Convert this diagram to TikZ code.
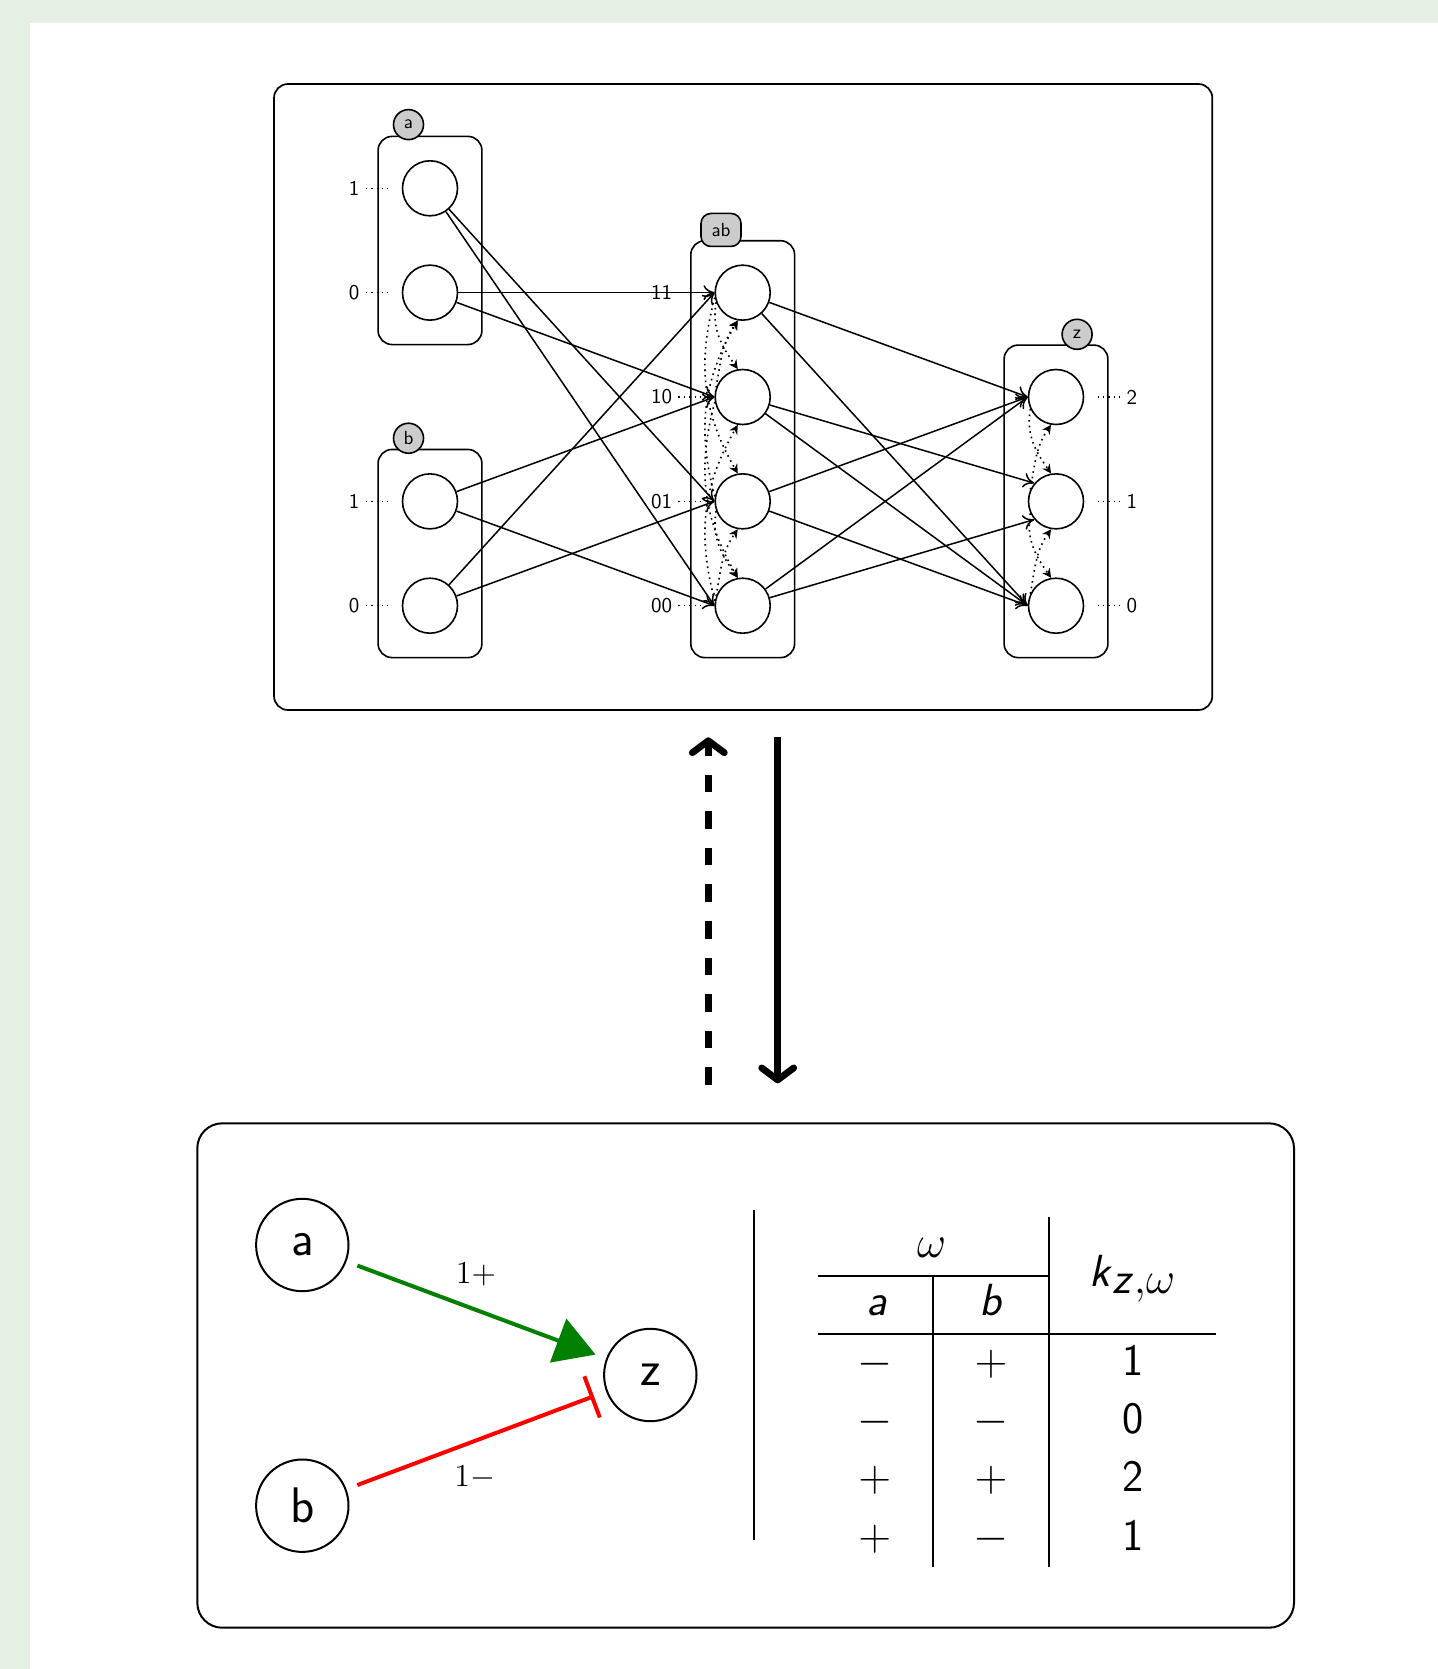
\RequirePackage{fix-cm}
\documentclass[tikz,border=0pt]{standalone}
\usepackage{amsmath}
\usepackage{fontspec}
\renewcommand{\familydefault}{\sfdefault}
\usetikzlibrary{arrows.meta,fit}
\definecolor{bggreen}{RGB}{229,240,229}
\definecolor{badgegray}{RGB}{204,204,204}
\definecolor{actgreen}{RGB}{0,128,0}
\begin{document}
\begin{tikzpicture}[x=0.5pt,y=-0.5pt,
  st/.style={circle, draw, line width=0.8pt, minimum size=27.5pt, inner sep=0pt},
  grp/.style={draw, rounded corners=7pt, line width=0.8pt, inner sep=11.8pt},
  badge/.style={circle, draw, fill=badgegray, line width=0.8pt, minimum size=15pt, inner sep=0pt, font=\fontsize{9.5}{11}\selectfont},
  badgerect/.style={rectangle, rounded corners=5pt, draw, fill=badgegray, line width=0.8pt, minimum width=20pt, minimum height=16.5pt, inner sep=0pt, font=\fontsize{9.5}{11}\selectfont},
  lbl/.style={font=\fontsize{10.5}{12}\selectfont, inner sep=3pt},
  pinline/.style={dotted, line width=0.7pt},
  flow/.style={line width=0.75pt, -{Computer Modern Rightarrow[length=5.5pt,width=7.5pt]}},
  trans/.style={dotted, line width=0.8pt, -{Stealth[length=4.5pt,width=4.5pt]}},
  gnode/.style={circle, draw, line width=1pt, minimum size=46.2pt, inner sep=0pt, font=\fontsize{25}{30}\selectfont},
  tbl/.style={font=\fontsize{22.5}{27}\selectfont, inner sep=0pt, anchor=base},
  trule/.style={line width=1pt},
  edgelbl/.style={font=\fontsize{16}{19}\selectfont, inner sep=0pt},
  bigarrow/.style={line width=3.4pt, -{Straight Barb[length=6pt,width=16pt,round]}},
  panel/.style={draw, rectangle, inner sep=0pt}
]
\useasboundingbox (0,0) rectangle (1438,1669);
\fill[bggreen] (0,0) rectangle (1438,1669);
\fill[white] (30,23) rectangle (1438,1669);

% ---------- top panel ----------
\node[panel, rounded corners=7pt, line width=0.85pt, minimum width=469.15pt, minimum height=313pt] (topbox) at (743.15,397) {};

% state nodes
\node[st] (a1) at (430,188.3) {};
\node[st] (a0) at (430,292.65) {};
\node[st] (b1) at (430,501.35) {};
\node[st] (b0) at (430,605.7) {};
\node[st] (ab11) at (742.7,292.65) {};
\node[st] (ab10) at (742.7,397) {};
\node[st] (ab01) at (742.7,501.35) {};
\node[st] (ab00) at (742.7,605.7) {};
\node[st] (z2) at (1056,397) {};
\node[st] (z1) at (1056,501.35) {};
\node[st] (z0) at (1056,605.7) {};

% groups
\node[grp, fit=(a1)(a0)] (ga) {};
\node[grp, fit=(b1)(b0)] (gb) {};
\node[grp, fit=(ab11)(ab00)] (gab) {};
\node[grp, fit=(z2)(z0)] (gz) {};

% badges
\node[badge] (bada) at ([xshift=15.6pt,yshift=5.5pt]ga.north west) {a};
\node[badge] (badb) at ([xshift=15.6pt,yshift=5.2pt]gb.north west) {b};
\node[badgerect] (badab) at ([xshift=15.5pt,yshift=5pt]gab.north west) {ab};
\node[badge] (badz) at ([xshift=-15.8pt,yshift=5pt]gz.north east) {z};

% value labels
\node[lbl, anchor=east] (la1) at ([xshift=-18pt]a1.west) {1};
\node[lbl, anchor=east] (la0) at ([xshift=-18pt]a0.west) {0};
\node[lbl, anchor=east] (lb1) at ([xshift=-18pt]b1.west) {1};
\node[lbl, anchor=east] (lb0) at ([xshift=-18pt]b0.west) {0};
\node[lbl, anchor=east] (lab11) at ([xshift=-18pt]ab11.west) {11};
\node[lbl, anchor=east] (lab10) at ([xshift=-18pt]ab10.west) {10};
\node[lbl, anchor=east] (lab01) at ([xshift=-18pt]ab01.west) {01};
\node[lbl, anchor=east] (lab00) at ([xshift=-18pt]ab00.west) {00};
\node[lbl, anchor=west] (lz2) at ([xshift=18pt]z2.east) {2};
\node[lbl, anchor=west] (lz1) at ([xshift=18pt]z1.east) {1};
\node[lbl, anchor=west] (lz0) at ([xshift=18pt]z0.east) {0};

\foreach \n in {a1,a0,b1,b0,ab11,ab10,ab01,ab00}{
  \draw[pinline] (l\n.east) -- ([xshift=-6.75pt]\n.west);
}
\foreach \n in {z2,z1,z0}{
  \draw[pinline] (l\n.west) -- ([xshift=6.75pt]\n.east);
}

% influence edges
\draw[flow] (a1) -- (ab01.west);
\draw[flow] (a1) -- (ab00.west);
\draw[flow] (a0) -- (ab11.west);
\draw[flow] (a0) -- (ab10.west);
\draw[flow] (b1) -- (ab10.west);
\draw[flow] (b1) -- (ab00.west);
\draw[flow] (b0) -- (ab11.west);
\draw[flow] (b0) -- (ab01.west);
\draw[flow] (ab11) -- (z2.west);
\draw[flow] (ab11) -- (z0.west);
\draw[flow] (ab10) -- (z1.140);
\draw[flow] (ab10) -- (z0.west);
\draw[flow] (ab01) -- (z2.west);
\draw[flow] (ab01) -- (z0.west);
\draw[flow] (ab00) -- (z2.west);
\draw[flow] (ab00) -- (z1.220);

% transitions
\draw[trans] (ab11.200) to[out=-100,in=125] (ab10.100);
\draw[trans] (ab10.160) to[out=80,in=235] (ab11.260);
\draw[trans] (ab01.200) to[out=-100,in=125] (ab00.100);
\draw[trans] (ab00.160) to[out=80,in=235] (ab01.260);
\draw[trans] (ab11.190) to[out=-105,in=120] (ab01.100);
\draw[trans] (ab01.170) to[out=105,in=240] (ab11.260);
\draw[trans] (ab10.190) to[out=-105,in=120] (ab00.100);
\draw[trans] (ab00.170) to[out=105,in=240] (ab10.260);
\draw[trans] (z2.205) to[out=-100,in=125] (z1.100);
\draw[trans] (z1.155) to[out=80,in=235] (z2.260);
\draw[trans] (z1.205) to[out=-100,in=125] (z0.100);
\draw[trans] (z0.155) to[out=80,in=235] (z1.260);

% ---------- arrows between panels ----------
\coordinate (upS) at (708.3,1085);
\coordinate (upE) at (708.3,737.3);
\coordinate (dnS) at (777.7,737.3);
\coordinate (dnE) at (777.7,1083.3);
\draw[bigarrow, dash pattern=on 8.8pt off 9.5pt] (upS) -- (upE);
\draw[bigarrow] (dnS) -- (dnE);

% ---------- bottom panel ----------
\node[panel, rounded corners=12.5pt, line width=1pt, minimum width=548.35pt, minimum height=252.2pt] (botbox) at (745.65,1375.5) {};

\node[gnode] (A) at (302.3,1245) {a};
\node[gnode] (B) at (302.3,1505.7) {b};
\node[gnode] (Z) at (650.3,1375) {z};

\draw[actgreen, line width=2pt, shorten <=5.8pt, shorten >=5.6pt, -{Triangle[length=20pt,width=23pt]}] (A) -- (Z);
\draw[red, line width=2pt, shorten <=5.8pt, shorten >=6.5pt, -{Bar[width=22pt]}] (B) -- (Z);
\node[edgelbl] (lplus) at (476,1274) {$1+$};
\node[edgelbl] (lminus) at (474.7,1478) {$1-$};

% separator
\coordinate (sepT) at (754.3,1210);
\coordinate (sepB) at (754.3,1540);
\draw[line width=1pt] (sepT) -- (sepB);

% table
\coordinate (r1L) at (818.3,1276);
\coordinate (r1R) at (1049.3,1276);
\coordinate (r2L) at (818.3,1334);
\coordinate (r2R) at (1216,1334);
\coordinate (v1T) at (933.3,1276);
\coordinate (v1B) at (933.3,1567.3);
\coordinate (v2T) at (1049.3,1216.7);
\coordinate (v2B) at (1049.3,1567.3);
\draw[trule] (r1L) -- (r1R);
\draw[trule] (r2L) -- (r2R);
\draw[trule] (v1T) -- (v1B);
\draw[trule] (v2T) -- (v2B);

\node[tbl] (hom) at (931.7,1257.3) {$\omega$};
\node[tbl] (ha) at (876.7,1315) {\textit{a}};
\node[tbl] (hb) at (991.7,1315) {\textit{b}};
\node[tbl] (hk) at (1132.5,1286) {\textit{k}\raisebox{-3.7pt}{\textit{z}${,}\omega$}};

\node[tbl] (c11) at (874.7,1375) {$-$};
\node[tbl] (c12) at (991,1375) {$+$};
\node[tbl] (c13) at (1133,1375) {1};
\node[tbl] (c21) at (874.7,1433.3) {$-$};
\node[tbl] (c22) at (991,1433.3) {$-$};
\node[tbl] (c23) at (1133,1433.3) {0};
\node[tbl] (c31) at (874.7,1491.7) {$+$};
\node[tbl] (c32) at (991,1491.7) {$+$};
\node[tbl] (c33) at (1133,1491.7) {2};
\node[tbl] (c41) at (874.7,1550) {$+$};
\node[tbl] (c42) at (991,1550) {$-$};
\node[tbl] (c43) at (1133,1550) {1};
\end{tikzpicture}
\end{document}
